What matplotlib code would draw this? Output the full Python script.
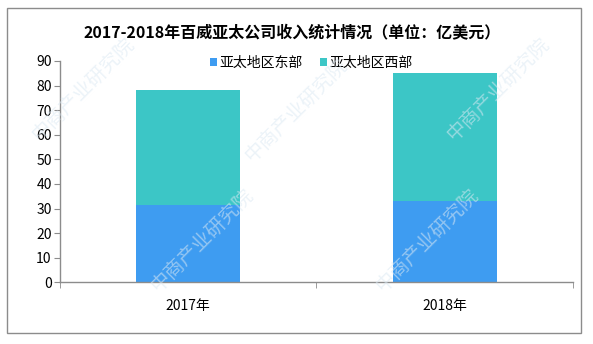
import matplotlib
matplotlib.use("Agg")
import matplotlib.pyplot as plt
from matplotlib.patches import Rectangle

plt.rcParams['font.family'] = ['Noto Sans CJK SC', 'DejaVu Sans']

years = ["2017年", "2018年"]
east = [31.4, 33.1]
west = [46.8, 52.2]

blue = "#3e9cf1"
teal = "#3cc6c6"
gray = "#8c8c8c"

fig = plt.figure(figsize=(5.93, 3.44), dpi=100)
ax = fig.add_axes([0.1012, 0.1794, 0.865, 0.6433])

x = list(range(len(years)))
ax.bar(x, east, width=0.405, color=blue, label="亚太地区东部", zorder=2)
ax.bar(x, west, width=0.405, bottom=east, color=teal, label="亚太地区西部", zorder=2)

ax.set_xlim(-0.5, len(years) - 0.5)
ax.set_ylim(0, 90)
ax.set_yticks(range(0, 91, 10))
ax.set_xticks(x)
ax.set_xticklabels(years, fontsize=10)
ax.set_xticks([-0.5, 0.5, 1.5], minor=True)
ax.tick_params(axis='x', which='major', length=0, pad=12)
ax.tick_params(axis='x', which='minor', length=4, color=gray, direction='out')
ax.tick_params(axis='y', length=4, color=gray, labelsize=10, pad=2)

for side in ["top", "right"]:
    ax.spines[side].set_visible(False)
for side in ["left", "bottom"]:
    ax.spines[side].set_color(gray)
    ax.spines[side].set_linewidth(1)

fig.text(0.492, 0.905, "2017-2018年百威亚太公司收入统计情况（单位：亿美元）",
         ha="center", va="center", fontsize=11.5, fontweight="bold")

ax.legend(loc="center", bbox_to_anchor=(0.49, 0.99), ncol=2, frameon=False,
          fontsize=10, handlelength=0.5, handleheight=0.5, handletextpad=0.2,
          columnspacing=1.2)

# watermark
for (wx, wy) in [(0.14, 0.74), (0.5, 0.68), (0.84, 0.74), (0.34, 0.3),
                 (0.72, 0.3)]:
    fig.text(wx, wy, "中商产业研究院", rotation=45, ha="center", va="center",
             fontsize=14, color="#dce9f3", alpha=0.55, zorder=0)

fig.patches.append(Rectangle((7 / 593, 1 - 333 / 344), 574 / 593, 325 / 344,
                             transform=fig.transFigure, fill=False,
                             edgecolor=gray, linewidth=1))

fig.savefig("out.png", dpi=100)
